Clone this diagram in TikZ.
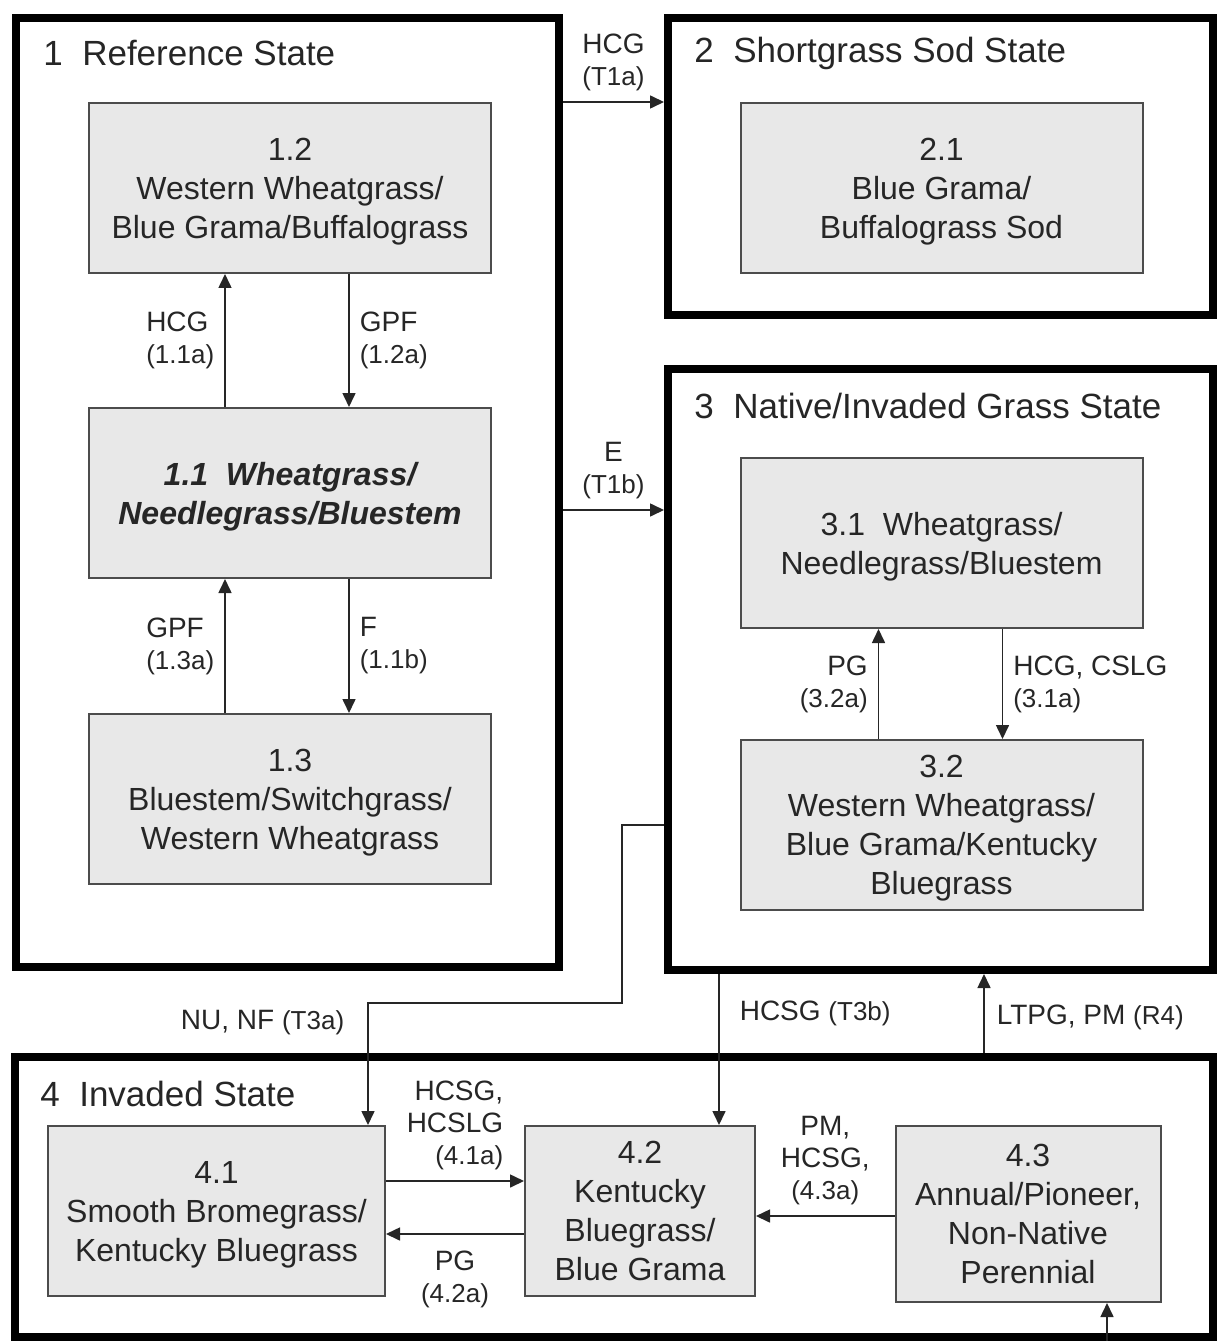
\documentclass[tikz,border=0pt]{standalone}
\usepackage{fontspec}
\setmainfont{Liberation Sans}
\usepackage{tikz}
\usetikzlibrary{arrows.meta,calc}
\newcommand\trcode[1]{{\fontsize{13}{16}\selectfont #1}}

\begin{document}
\begin{tikzpicture}[
  x=0.5pt, y=-0.5pt,
  statebox/.style={draw=black, line width=4pt, inner sep=0pt},
  community/.style={draw=black!70, line width=1pt, fill=black!9, text=black!85, align=center, inner sep=2pt, text depth=-2pt, font=\fontsize{16}{19.5}\selectfont, minimum width=201pt, minimum height=85pt},
  title/.style={anchor=west, inner sep=0pt, text=black!85, font=\fontsize{17.5}{21}\selectfont},
  lbl/.style={text=black!85, inner sep=5pt, align=center, font=\fontsize{14}{16}\selectfont},
  edge/.style={-{Triangle[length=7pt,width=6.5pt]}, line width=0.8pt, draw=black!85}
]
\useasboundingbox (0,0) rectangle (1218,1342);

\node[statebox, minimum width=271.5pt, minimum height=474.5pt] (s1) at (287.5,492.5) {};
\node[statebox, minimum width=272.5pt, minimum height=148.5pt] (s2) at (940.5,166.5) {};
\node[statebox, minimum width=272.5pt, minimum height=300.5pt] (s3) at (940.5,669.5) {};
\node[statebox, minimum width=599pt, minimum height=140pt] (s4) at (614,1197) {};

\node[title] (t1) at (43,53) {1\ \ Reference State};
\node[title] (t2) at (694,53) {2\ \ Shortgrass Sod State};
\node[title] (t3) at (694,406) {3\ \ Native/Invaded Grass State};
\node[title] (t4) at (40,1094) {4\ \ Invaded State};

\node[community] (b12) at (290,188) {1.2\\Western Wheatgrass/\\Blue Grama/Buffalograss};
\node[community, font=\fontsize{16}{19.5}\selectfont\bfseries\itshape] (b11) at (290,493) {1.1\ \ Wheatgrass/\\Needlegrass/Bluestem};
\node[community] (b13) at (290,799) {1.3\\Bluestem/Switchgrass/\\Western Wheatgrass};
\node[community] (b21) at (941.5,188) {2.1\\Blue Grama/\\Buffalograss Sod};
\node[community] (b31) at (941.5,543) {3.1\ \ Wheatgrass/\\Needlegrass/Bluestem};
\node[community] (b32) at (941.5,825) {3.2\\Western Wheatgrass/\\Blue Grama/Kentucky\\Bluegrass};
\node[community, minimum width=168.5pt] (b41) at (216.5,1211) {4.1\\Smooth Bromegrass/\\Kentucky Bluegrass};
\node[community, minimum width=115pt] (b42) at (640,1211) {4.2\\Kentucky\\Bluegrass/\\Blue Grama};
\node[community, minimum width=132.5pt, minimum height=88pt] (b43) at (1028,1214) {4.3\\Annual/Pioneer,\\Non-Native\\Perennial};

\draw[edge] ($(b11.north)+(-65,0)$) -- node[lbl, left, align=left] {HCG\\\trcode{(1.1a)}} ($(b12.south)+(-65,0)$);
\draw[edge] ($(b12.south)+(59,0)$) -- node[lbl, right, align=left] {GPF\\\trcode{(1.2a)}} ($(b11.north)+(59,0)$);
\draw[edge] ($(b13.north)+(-65,0)$) -- node[lbl, left, align=left] {GPF\\\trcode{(1.3a)}} ($(b11.south)+(-65,0)$);
\draw[edge] ($(b11.south)+(59,0)$) -- node[lbl, right, align=left] {F\\\trcode{(1.1b)}} ($(b13.north)+(59,0)$);

\draw[edge] (s1.east |- b12.north) -- node[lbl, above] {HCG\\\trcode{(T1a)}} (s2.west |- b12.north);
\draw[edge] ($(s1.east |- b11.east)+(0,17)$) -- node[lbl, above] {E\\\trcode{(T1b)}} ($(s2.west |- b11.east)+(0,17)$);

\draw[edge] ($(b32.north)+(-63,0)$) -- node[lbl, left, align=right] {PG\\\trcode{(3.2a)}} ($(b31.south)+(-63,0)$);
\draw[edge] ($(b31.south)+(61,0)$) -- node[lbl, right, align=left] {HCG, CSLG\\\trcode{(3.1a)}} ($(b32.north)+(61,0)$);

\coordinate (t3aknee) at (622,1003);
\draw[edge] (s3.west |- b32.center) -| (t3aknee) -| node[lbl, pos=0.5, anchor=north east, xshift=-6.5pt, yshift=2pt] {NU, NF \trcode{(T3a)}} ($(b41.north east)+(-18,0)$);
\draw[edge] ($(b42.north |- s3.south)+(79,0)$) -- node[lbl, pos=0.26, right, xshift=5pt] {HCSG \trcode{(T3b)}} ($(b42.north)+(79,0)$);
\draw[edge] ($(b43.north |- s4.north)+(-44,0)$) -- node[lbl, pos=0.45, right, xshift=1pt] {LTPG, PM \trcode{(R4)}} ($(b43.north |- s3.south)+(-44,0)$);

\draw[edge] ($(b41.east)+(0,-30)$) -- node[lbl, above, align=right] {HCSG,\\HCSLG\\\trcode{(4.1a)}} ($(b41.east -| b42.west)+(0,-30)$);
\draw[edge] ($(b41.east -| b42.west)+(0,23)$) -- node[lbl, below, yshift=-3pt] {PG\\\trcode{(4.2a)}} ($(b41.east)+(0,23)$);
\draw[edge] ($(b43.west)+(0,2)$) -- node[lbl, above] {PM,\\HCSG,\\\trcode{(4.3a)}} ($(b43.west -| b42.east)+(0,2)$);
\draw[edge] ($(b43.south |- s4.south)+(79,0)$) -- ($(b43.south)+(79,0)$);
\end{tikzpicture}
\end{document}
